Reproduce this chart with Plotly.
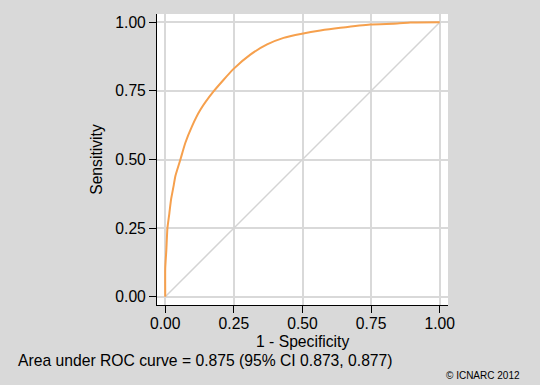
import plotly.graph_objects as go

fpr = [0, 0, 0.004, 0.008, 0.015, 0.021, 0.030, 0.037, 0.055, 0.073, 0.097, 0.128,
       0.176, 0.249, 0.31, 0.371, 0.431, 0.498, 0.565, 0.638, 0.747, 0.845, 0.893, 1.0]
tpr = [0, 0.104, 0.170, 0.25, 0.304, 0.353, 0.401, 0.440, 0.499, 0.560, 0.620, 0.681,
       0.748, 0.830, 0.882, 0.919, 0.943, 0.958, 0.970, 0.980, 0.992, 0.995, 0.999, 1.0]
ref_x = [0, 1]
ref_y = [0, 1]
tick_vals = [0, 0.25, 0.5, 0.75, 1.0]
tick_text = ["0.00", "0.25", "0.50", "0.75", "1.00"]

BG = "#d9d9d9"
FONT = "Liberation Sans, Arial, sans-serif"
FS = 15.7

fig = go.Figure()
fig.add_trace(go.Scatter(x=ref_x, y=ref_y, mode="lines",
                         line=dict(color="#d4d4d4", width=1.5),
                         hoverinfo="skip", showlegend=False))
fig.add_trace(go.Scatter(x=fpr, y=tpr, mode="lines",
                         line=dict(color="#f6a04d", width=2, shape="spline", smoothing=0.5),
                         showlegend=False))

axis_common = dict(
    range=[-0.03, 1.03], tickvals=tick_vals, ticktext=tick_text,
    showgrid=True, gridcolor=BG, gridwidth=2, zeroline=False,
    showline=True, linecolor="black", linewidth=1,
    ticks="outside", ticklen=7, tickcolor="black", tickwidth=1,
    tickfont=dict(family=FONT, size=FS, color="black"),
    fixedrange=True, automargin=False,
)

fig.update_xaxes(**axis_common, mirror=False, ticklabelstandoff=-3)
fig.update_yaxes(**axis_common, mirror=False,
                 title=dict(text="Sensitivity", font=dict(family=FONT, size=FS, color="black"),
                            standoff=8))

# x-axis title placed as annotation (centred under the plot)
fig.add_annotation(text="1 - Specificity",
                   xref="paper", yref="paper", x=0.5, y=(305 - 341) / 291,
                   xanchor="center", yanchor="middle", showarrow=False,
                   font=dict(family=FONT, size=FS, color="black"))
fig.add_annotation(text="Area under ROC curve = 0.875 (95% CI 0.873, 0.877)",
                   xref="paper", yref="paper", x=-0.4845, y=(305 - 360) / 291,
                   xanchor="left", yanchor="middle", showarrow=False,
                   font=dict(family=FONT, size=FS, color="black"))
fig.add_annotation(text="© ICNARC 2012",
                   xref="paper", yref="paper", x=1.254, y=-0.243,
                   xanchor="right", yanchor="middle", showarrow=False,
                   font=dict(family=FONT, size=10, color="black"))

fig.update_layout(
    width=540, height=385,
    margin=dict(l=157, r=92, t=14, b=80),
    paper_bgcolor=BG, plot_bgcolor="white",
    font=dict(family=FONT, size=FS, color="black"),
)

fig.write_html("out.html", config={"displayModeBar": False},
               post_script="document.body.style.margin='0px';")
